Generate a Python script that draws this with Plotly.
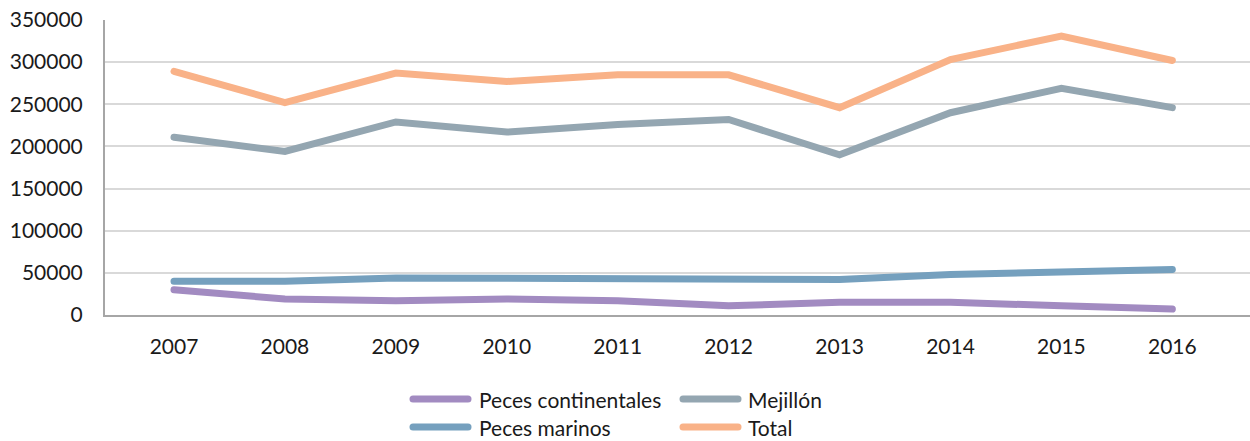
import plotly.graph_objects as go

years = [2007, 2008, 2009, 2010, 2011, 2012, 2013, 2014, 2015, 2016]
peces_continentales = [30000, 19000, 17000, 19000, 17000, 11000, 15000, 15000, 11000, 7000]
mejillon = [211000, 194000, 229000, 217000, 226000, 232000, 190000, 240000, 269000, 246000]
peces_marinos = [40000, 40000, 44000, 44000, 42000, 44000, 42000, 48000, 52000, 54000]
total = [289000, 252000, 287000, 277000, 285000, 285000, 246000, 303000, 331000, 302000]
y_ticks = [0, 50000, 100000, 150000, 200000, 250000, 300000, 350000]

names = ["Peces continentales", "Mejillón", "Peces marinos", "Total"]
values = [peces_continentales, mejillon, peces_marinos, total]
colors = ["#A28BC1", "#94A6B1", "#75A0BE", "#F9B288"]

W, H = 1250, 441
L, R, T, B = 105, 0, 20, 126
PW, PH = W - L - R, H - T - B

font = dict(family="Lato, sans-serif", size=21, color="#1a1a1a")

fig = go.Figure()
for name, vals, color in zip(names, values, colors):
    fig.add_trace(go.Scatter(
        x=years, y=vals, name=name, mode="lines",
        line=dict(color=color, width=7),
        showlegend=False,
    ))

# manual legend (2 columns x 2 rows), positions in pixels converted to paper coords
def px(xp):
    return (xp - L) / PW

def py(yp):
    return (H - B - yp) / PH

leg_cols = [(413, 468, 478), (683, 738, 747)]
leg_rows = [399, 427]
for i, (name, color) in enumerate(zip(names, colors)):
    r, c = divmod(i, 2)
    x0, x1, xt = leg_cols[c]
    yy = leg_rows[r]
    fig.add_shape(type="line", xref="paper", yref="paper",
                  x0=px(x0), x1=px(x1), y0=py(yy), y1=py(yy),
                  line=dict(color=color, width=7))
    fig.add_annotation(xref="paper", yref="paper", x=px(xt), y=py(yy),
                       text=name, showarrow=False, xanchor="left", yanchor="middle",
                       font=font, borderpad=0)

fig.update_layout(
    width=W, height=H,
    margin=dict(l=L, r=R, t=T, b=B),
    paper_bgcolor="white", plot_bgcolor="white",
    font=font,
    showlegend=False,
)
fig.update_xaxes(
    range=[2006.378, 2016.70], tickvals=years, ticktext=[str(y) for y in years],
    showgrid=False, showline=True, linecolor="#A6A6A6", linewidth=2,
    ticks="", ticklabelstandoff=12, zeroline=False, tickfont=font,
)
fig.update_yaxes(
    range=[0, 350000], tickvals=y_ticks, ticktext=[str(v) for v in y_ticks],
    showgrid=True, gridcolor="#D9D9D9", gridwidth=2,
    showline=True, linecolor="#A6A6A6", linewidth=2,
    ticks="", ticklabelstandoff=16, zeroline=False, tickfont=font,
)

post = """
document.body.style.margin='0';
document.body.style.padding='0';
var st=document.createElement('style');
st.innerHTML='.js-line{stroke-linecap:round !important;} .layer-above path, .shapelayer path{stroke-linecap:round !important;}';
document.head.appendChild(st);
"""
fig.write_html("out.html", post_script=post, config={"displayModeBar": False})
